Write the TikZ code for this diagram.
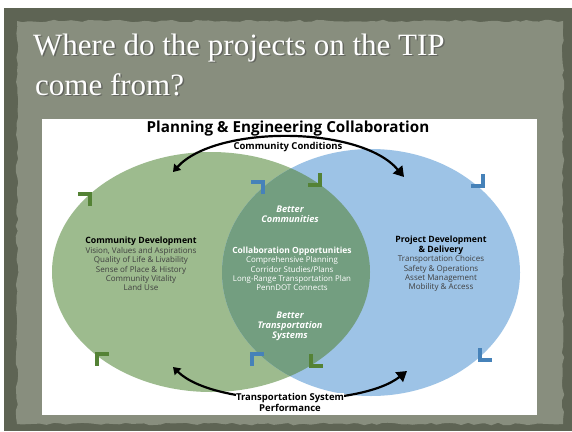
\documentclass[tikz,border=0pt]{standalone}
\usepackage{fontspec}
\setmainfont{Liberation Serif}
\newfontfamily\diagfont{Open Sans}
\usetikzlibrary{positioning,arrows.meta,decorations.pathmorphing}

\definecolor{slidedark}{RGB}{94,100,84}
\definecolor{slidepanel}{RGB}{136,142,126}
\definecolor{leafgreen}{RGB}{157,187,142}
\definecolor{skyblue}{RGB}{157,195,230}
\definecolor{mixgreen}{RGB}{115,158,128}
\definecolor{chevgreen}{RGB}{84,130,53}
\definecolor{chevblue}{RGB}{70,130,185}
\definecolor{txtgray}{RGB}{64,64,64}

\begin{document}
\pgfmathsetseed{7}
\begin{tikzpicture}[x=1pt,y=-1pt,
	every node/.style={inner sep=0pt, align=center},
	title/.style={font=\fontsize{31}{40}\selectfont, anchor=base west},
	bighead/.style={font=\diagfont\bfseries\fontsize{15.2}{18}\selectfont},
	cond/.style={font=\diagfont\bfseries\fontsize{9.5}{11}\selectfont},
	body/.style={font=\diagfont\fontsize{8}{9.4}\selectfont, text=txtgray},
	inner/.style={font=\diagfont\fontsize{7.9}{9.3}\selectfont, text=white},
	better/.style={font=\diagfont\bfseries\itshape\fontsize{9.2}{9.9}\selectfont, text=white},
	swoosh/.style={draw=black, line width=2.2pt, {Triangle[width=9pt,length=7pt]}-{Triangle[width=12pt,length=10pt]}},
	chevron/.style={line width=4.5pt, miter limit=4}]
	% slide
	\useasboundingbox (0,0) rectangle (572,431);
	\fill[slidedark] (4,8) rectangle (572,431);
	\fill[slidepanel, decorate, decoration={random steps, segment length=6pt, amplitude=1.3pt}] (17,21) rectangle (563,424);
	\foreach \ln/\tx/\ty/\txt in {1/33/55/{Where do the projects on the TIP}, 2/35/95/{come from?}} {
		\node[title, text=black!70, opacity=0.6] (shadow\ln) at (\tx+1.5,\ty+1.5) {\txt};
		\node[title, text=white] (title\ln) at (\tx,\ty) {\txt};
	}
	\fill[white] (42,119) rectangle (537,415);
	% circles
	\fill[leafgreen] (211,272) ellipse (159 and 120);
	\fill[skyblue] (371,272.5) ellipse (149 and 123.5);
	\begin{scope}
		\clip (211,272) ellipse (159 and 120);
		\fill[mixgreen] (371,272.5) ellipse (149 and 123.5);
	\end{scope}
	% chevrons
	\foreach \px/\py/\dir/\col in {90/194/-45/chevgreen, 320/185/45/chevgreen, 311/366/135/chevgreen, 97/354/-135/chevgreen,
		263/182/-45/chevblue, 483/186/45/chevblue, 480/360/135/chevblue, 252/354/-135/chevblue}
	\draw[chevron, draw=\col] ([shift={(\dir+135:12)}]\px,\py) -- (\px,\py) -- ([shift={(\dir-135:12)}]\px,\py);
	% titles
	\node[bighead, anchor=base] (collab) at (288,132) {Planning \& Engineering Collaboration};
	\node[cond, anchor=base] (condtop) at (288,149.5) {Community Conditions};
	% swooshes
	\coordinate (topL) at (173,172);
	\coordinate (topR) at (404,177);
	\coordinate (botL) at (173,367);
	\coordinate (botR) at (407,371);
	\draw[swoosh] (topL) .. controls (215,125) and (360,125) .. (topR);
	\draw[swoosh] (botL) .. controls (215,408) and (360,408) .. (botR);
	\node[cond, fill=white, anchor=north, inner sep=0.5pt] (condbot) at (290,392.5) {Transportation System\\Performance};
	% left circle
	\node[body, anchor=north] (develop) at (141,237) {{\bfseries\color{black}\fontsize{8.7}{9.4}\selectfont Community  Development}\\
		Vision, Values and Aspirations\\Quality of Life \& Livability\\Sense of Place \& History\\Community Vitality\\Land Use};
	% overlap
	\node[better] (bettercom) at (290,214) {Better\\Communities};
	\node[inner, anchor=north] (opport) at (292,247) {{\bfseries\fontsize{8.5}{9.3}\selectfont Collaboration  Opportunities}\\
		Comprehensive Planning\\Corridor Studies/Plans\\Long-Range Transportation Plan\\PennDOT Connects};
	\node[better, anchor=north] (bettersys) at (290,312) {Better\\Transportation\\Systems};
	% right circle
	\node[body, anchor=north] (delivery) at (441,236) {{\bfseries\color{black}\fontsize{8.7}{9.4}\selectfont Project Development}\\
		{\bfseries\color{black}\fontsize{8.7}{9.4}\selectfont \& Delivery}\\
		Transportation Choices\\Safety \& Operations\\Asset Management\\Mobility \& Access};
\end{tikzpicture}
\end{document}
